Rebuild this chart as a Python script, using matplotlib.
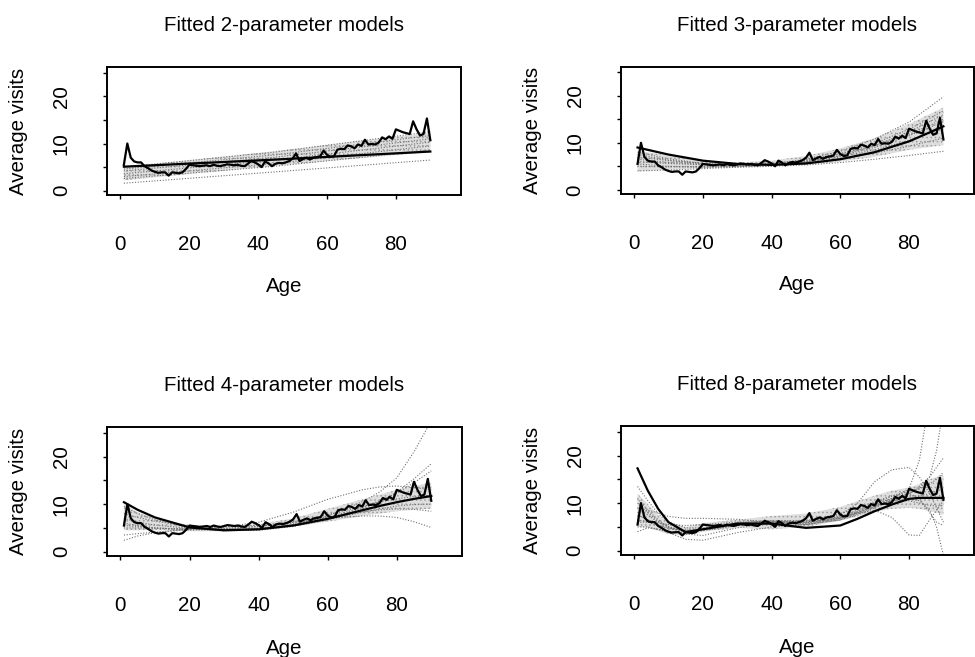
import numpy as np
import matplotlib
matplotlib.use('Agg')
import matplotlib.pyplot as plt

plt.rcParams['font.family'] = ['Liberation Sans', 'DejaVu Sans']
plt.rcParams['hatch.linewidth'] = 0.6

# observed average visits by age 1..90
ages = list(range(1, 91))
visits = [5.5, 10.0, 7.0, 6.2, 6.0, 6.0, 5.2, 4.8, 4.3, 4.0,
          3.8, 3.9, 3.9, 3.2, 3.9, 3.8, 3.7, 3.9, 4.6, 5.5,
          5.4, 5.3, 5.2, 5.3, 5.4, 5.2, 5.5, 5.3, 5.2, 5.4,
          5.6, 5.5, 5.4, 5.5, 5.3, 5.2, 5.7, 6.3, 6.0, 5.6,
          5.0, 6.2, 5.8, 5.2, 5.7, 5.9, 5.8, 6.0, 6.3, 6.8,
          7.9, 6.3, 6.7, 7.0, 6.6, 7.0, 7.1, 7.3, 8.5, 7.6,
          7.2, 7.3, 8.7, 8.9, 8.8, 9.6, 9.4, 9.0, 9.8, 9.5,
          10.8, 9.8, 9.9, 9.8, 10.2, 11.3, 10.9, 11.5, 11.0, 13.0,
          12.7, 12.4, 12.2, 12.0, 14.7, 13.0, 11.7, 12.0, 15.3, 10.7]

# 2-parameter models
p1_ages = [1, 45, 90]
p1_fit = [5.1, 6.6, 8.3]
p1_lo = [2.2, 5.3, 8.2]
p1_hi = [5.0, 8.4, 12.3]
p1_boot = [[1.6, 4.0, 6.5], [2.6, 5.2, 8.6], [3.0, 5.8, 9.5], [3.6, 6.5, 10.3],
           [4.2, 7.1, 11.0], [4.6, 7.6, 11.7], [5.0, 8.2, 12.5]]

# 3-parameter models
p2_ages = [1, 10, 20, 30, 40, 50, 60, 70, 80, 90]
p2_fit = [9.0, 7.5, 6.2, 5.5, 5.3, 5.6, 6.5, 8.0, 10.3, 13.5]
p2_lo = [4.0, 4.3, 4.6, 4.8, 5.0, 5.3, 6.0, 7.0, 8.5, 9.5]
p2_hi = [8.3, 7.3, 6.2, 5.8, 6.2, 7.2, 8.8, 11.0, 14.0, 17.5]
p2_boot = [[4.0, 4.2, 4.5, 4.8, 5.0, 5.3, 5.8, 6.5, 7.3, 8.2],
           [5.0, 4.9, 4.9, 5.0, 5.3, 5.8, 6.6, 7.8, 9.3, 11.0],
           [6.0, 5.6, 5.3, 5.2, 5.4, 6.0, 7.0, 8.5, 10.5, 13.0],
           [7.0, 6.2, 5.6, 5.3, 5.4, 6.0, 7.2, 9.0, 11.5, 14.5],
           [8.0, 6.6, 5.6, 5.1, 5.2, 5.9, 7.3, 9.4, 12.3, 16.0],
           [5.5, 5.0, 4.8, 4.9, 5.3, 6.2, 7.7, 9.9, 12.9, 16.8],
           [7.5, 6.3, 5.5, 5.2, 5.5, 6.5, 8.2, 10.8, 14.4, 19.8],
           [6.5, 5.8, 5.4, 5.3, 5.6, 6.3, 7.6, 9.4, 11.8, 15.0]]

# 4-parameter models
p3_ages = [1, 5, 10, 20, 30, 40, 50, 60, 70, 75, 80, 85, 90]
p3_fit = [10.4, 8.8, 7.2, 5.1, 4.5, 4.7, 5.5, 6.9, 8.7, 9.6, 10.4, 11.1, 11.7]
p3_lo = [4.5, 4.5, 4.5, 4.3, 4.3, 4.6, 5.3, 6.3, 7.5, 8.0, 8.5, 8.8, 9.0]
p3_hi = [10.0, 8.3, 7.0, 5.6, 5.2, 5.8, 7.0, 9.0, 11.0, 12.0, 13.0, 13.8, 14.5]
p3_boot = [[2.4, 3.3, 4.0, 4.8, 5.2, 5.6, 6.2, 7.0, 7.5, 7.5, 7.2, 6.3, 5.1],
           [5.0, 5.0, 4.9, 4.8, 4.7, 4.9, 5.5, 7.5, 10.5, 12.5, 15.5, 21.0, 27.5],
           [6.0, 5.5, 5.0, 4.6, 4.5, 4.8, 5.6, 7.0, 9.0, 10.5, 12.5, 15.3, 18.5],
           [7.0, 6.2, 5.6, 4.9, 4.7, 4.9, 5.7, 7.2, 9.3, 10.7, 12.3, 14.5, 17.0],
           [8.0, 7.2, 6.4, 5.4, 5.2, 6.2, 8.3, 11.0, 13.0, 13.6, 13.8, 13.5, 13.0],
           [9.5, 8.0, 6.7, 5.0, 4.4, 4.5, 5.3, 6.7, 8.3, 9.0, 9.6, 9.9, 10.0],
           [3.5, 3.8, 4.1, 4.6, 4.9, 5.3, 6.0, 7.2, 8.4, 8.8, 9.0, 8.9, 8.5],
           [5.5, 5.3, 5.0, 4.7, 4.8, 5.3, 6.3, 7.8, 9.5, 10.4, 11.1, 11.6, 11.8]]

# 8-parameter models
p4_ages = [1, 4, 7, 10, 15, 20, 30, 40, 50, 60, 65, 70, 75, 80, 83, 86, 88, 90]
p4_fit = [17.3, 12.6, 8.8, 6.0, 3.9, 4.5, 5.7, 5.7, 4.8, 5.3, 6.7, 8.3, 9.7, 10.9,
          11.1, 11.1, 11.1, 11.1]
p4_lo = [5.0, 4.8, 4.2, 3.5, 3.2, 4.0, 4.8, 4.5, 5.0, 6.3, 7.2, 8.2, 8.8, 9.0,
         8.8, 8.3, 8.0, 7.5]
p4_hi = [12.0, 9.8, 7.5, 6.0, 5.0, 5.8, 6.5, 7.3, 7.8, 9.2, 10.4, 11.6, 12.6, 13.3,
         14.0, 15.0, 15.5, 16.0]
p4_boot = [[13.5, 10.5, 7.8, 6.0, 4.8, 4.8, 5.5, 6.0, 6.0, 7.5, 10.0, 14.5, 17.0, 17.5, 15.5, 12.0, 9.0, 6.0],
           [6.0, 6.0, 5.8, 5.5, 5.3, 5.5, 6.0, 6.2, 6.4, 7.0, 7.8, 8.5, 7.0, 3.3, 3.2, 6.5, 8.5, 10.5],
           [9.0, 7.5, 6.0, 5.0, 4.3, 4.6, 5.8, 6.3, 6.0, 6.8, 8.0, 9.5, 11.0, 13.0, 19.0, 32.0, 40.0, 48.0],
           [7.5, 6.5, 5.5, 4.8, 4.2, 4.5, 5.5, 6.0, 6.0, 7.2, 8.5, 10.0, 11.5, 12.5, 13.0, 15.5, 21.0, 30.0],
           [4.0, 4.8, 4.5, 4.0, 3.8, 4.4, 5.8, 6.2, 5.8, 6.8, 8.0, 9.3, 10.5, 11.0, 10.5, 8.5, 5.0, -1.0],
           [11.0, 8.5, 6.5, 5.0, 3.5, 3.2, 4.8, 5.8, 5.5, 6.5, 7.8, 9.2, 10.8, 12.0, 13.5, 15.5, 17.5, 19.5],
           [5.0, 5.0, 4.5, 3.8, 2.4, 2.2, 3.8, 5.0, 5.5, 6.8, 8.0, 9.5, 10.5, 10.5, 10.0, 9.5, 9.4, 9.5],
           [8.0, 8.5, 8.0, 7.2, 6.8, 6.8, 6.6, 6.0, 5.5, 6.5, 7.5, 9.0, 10.5, 12.0, 13.0, 14.0, 15.0, 16.5],
           [6.5, 6.0, 5.3, 4.7, 4.2, 4.4, 5.3, 5.7, 5.8, 7.0, 8.3, 9.8, 11.0, 11.5, 11.5, 12.0, 12.5, 13.0],
           [10.0, 8.0, 6.2, 5.0, 4.0, 4.2, 5.3, 5.9, 6.2, 7.8, 9.0, 10.3, 11.5, 12.0, 11.0, 8.0, 6.0, 5.3]]

titles = ['Fitted 2-parameter models', 'Fitted 3-parameter models',
          'Fitted 4-parameter models', 'Fitted 8-parameter models']

fig = plt.figure(figsize=(9.75, 6.57), dpi=100)
W, H = 975.0, 657.0
boxes = [(107, 67, 461, 195), (620.7, 66.7, 974, 194),
         (107, 427, 462, 556), (620.7, 426, 974, 555)]

panels = [(p1_ages, p1_fit, p1_lo, p1_hi, p1_boot),
          (p2_ages, p2_fit, p2_lo, p2_hi, p2_boot),
          (p3_ages, p3_fit, p3_lo, p3_hi, p3_boot),
          (p4_ages, p4_fit, p4_lo, p4_hi, p4_boot)]

for (x0, y0, x1, y1), title, (k, fit, lo, hi, boot) in zip(boxes, titles, panels):
    ax = fig.add_axes([x0 / W, 1 - y1 / H, (x1 - x0) / W, (y1 - y0) / H])
    ax.fill_between(k, lo, hi, facecolor='#dedede', edgecolor='#9e9e9e',
                    hatch='....', linewidth=0, zorder=1)
    for b in boot:
        ax.plot(k, b, color='#707070', linestyle=(0, (1, 1.5)), linewidth=0.8, zorder=2)
    ax.plot(ages, visits, color='black', linewidth=1.6, zorder=4)
    ax.plot(k, fit, color='black', linewidth=1.6, zorder=4)

    ax.set_xlim(-3.9, 98.9)
    ax.set_ylim(-0.9, 26.2)
    ax.set_xticks([0, 20, 40, 60, 80])
    ax.set_yticks([0, 5, 10, 15, 20, 25])
    ax.set_yticklabels(['0', '', '10', '', '20', ''])
    ax.tick_params(direction='out', length=3, width=1, labelsize=14.8)
    ax.tick_params(axis='x', pad=26)
    ax.tick_params(axis='y', pad=23, labelrotation=90)
    for lab in ax.get_yticklabels():
        lab.set_verticalalignment('center')
    for s in ax.spines.values():
        s.set_linewidth(1.4)

    ax.set_title(title, fontsize=14.8, pad=26)
    ax.set_xlabel('Age', fontsize=14.8)
    ax.xaxis.set_label_coords(0.5, -0.64)
    ax.set_ylabel('Average visits', fontsize=14.8)
    ax.yaxis.set_label_coords(-0.222, 0.5)

fig.savefig('out.png', dpi=100)
